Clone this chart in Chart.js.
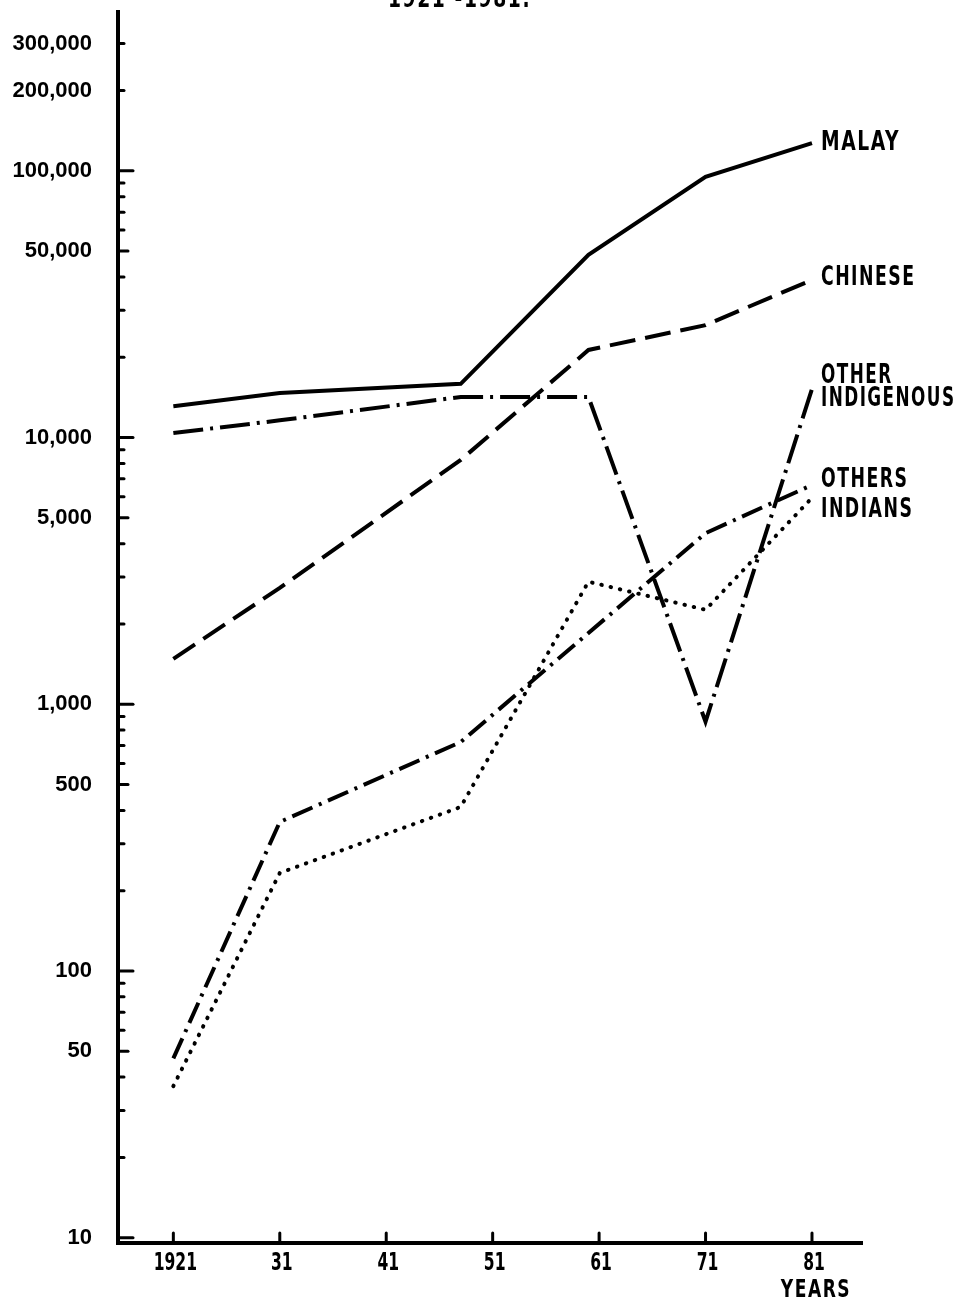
<!DOCTYPE html>
<html>
<head>
<meta charset="utf-8">
<script src="https://cdn.jsdelivr.net/npm/chart.js@4"></script>
<style>
  html, body { margin: 0; padding: 0; background: #fff; }
  #wrap { width: 962px; height: 1303px; position: relative; }
</style>
</head>
<body>
<div id="wrap"><canvas id="chart"></canvas></div>
<script>
// census years and population per group (log scale)
const years = [1921, 1931, 1948, 1960, 1971, 1981];
const malay = [13100, 14700, 15900, 48400, 94900, 127000];
const chinese = [1480, 2730, 8240, 21300, 26400, 39000];
const otherIndigenous = [10400, 11600, 14200, 14200, 860, 15200];
const others = [47, 362, 722, 1850, 4380, 6640];
const indians = [37, 233, 412, 2880, 2260, 5940];

const seriesNames = ['MALAY', 'CHINESE', ['OTHER', 'INDIGENOUS'], 'OTHERS', 'INDIANS'];
const xTickValues = [1921, 1931, 1941, 1951, 1961, 1971, 1981];
const xTickLabels = ['1921', '31', '41', '51', '61', '71', '81'];
const yTickValues = [10, 50, 100, 500, 1000, 5000, 10000, 50000, 100000, 200000, 300000];
const yTickLabels = ['10', '50', '100', '500', '1,000', '5,000', '10,000', '50,000', '100,000', '200,000', '300,000'];

const narrow = '"DejaVu Sans Condensed", "DejaVu Sans", sans-serif';
const toPoints = vals => vals.map((v, i) => ({ x: years[i], y: v }));

// squeeze text horizontally to get the tall narrow stencil look
function narrowText(ctx, text, x, y, sx, align) {
    ctx.save();
    ctx.translate(x, y);
    ctx.scale(sx, 1);
    ctx.textAlign = align;
    ctx.fillText(text, 0, 0);
    ctx.restore();
}

// inward tick marks, x labels, end labels, axis name and the clipped heading
const decor = {
    id: 'decor',
    afterDraw(chart) {
        const { ctx, chartArea, scales: { x, y } } = chart;
        ctx.save();
        ctx.strokeStyle = '#000';
        ctx.fillStyle = '#000';
        ctx.lineWidth = 3;
        ctx.lineCap = 'round';

        for (let d = 10; d <= 100000; d *= 10) {
            for (let m = 1; m <= 9; m++) {
                const v = d * m;
                if (v < y.min || v > y.max) continue;
                const py = y.getPixelForValue(v);
                const len = m === 1 ? 15 : (m === 5 ? 10 : 6);
                ctx.beginPath();
                ctx.moveTo(chartArea.left, py);
                ctx.lineTo(chartArea.left + len, py);
                ctx.stroke();
            }
        }
        ctx.font = 'bold 24px ' + narrow;
        ctx.textBaseline = 'middle';
        xTickValues.forEach((v, i) => {
            const px = x.getPixelForValue(v);
            ctx.beginPath();
            ctx.moveTo(px, chartArea.bottom);
            ctx.lineTo(px, chartArea.bottom - 10);
            ctx.stroke();
            narrowText(ctx, xTickLabels[i], px + 2, chartArea.bottom + 21, 0.72, 'center');
        });

        ctx.font = 'bold 26px ' + narrow;
        ctx.letterSpacing = '2px';
        const offsets = [0, -2, 0, -5, 12];
        chart.data.datasets.forEach((ds, i) => {
            const last = ds.data[ds.data.length - 1];
            const px = x.getPixelForValue(last.x) + 9;
            const py = y.getPixelForValue(last.y) + offsets[i];
            const name = seriesNames[i];
            if (Array.isArray(name)) {
                narrowText(ctx, name[0], px, py - 13, 0.72, 'left');
                narrowText(ctx, name[1], px, py + 10, 0.72, 'left');
            } else {
                narrowText(ctx, name, px, py, i === 0 ? 0.8 : 0.74, 'left');
            }
        });

        ctx.font = 'bold 25px ' + narrow;
        narrowText(ctx, 'YEARS', x.getPixelForValue(1981) + 4, 1290, 0.76, 'center');

        ctx.font = 'bold 26px ' + narrow;
        ctx.textBaseline = 'alphabetic';
        narrowText(ctx, '1921 -1981.', 388, 7, 0.8, 'left');
        ctx.restore();
    }
};

const lineStyle = { borderColor: '#000', borderWidth: 4, pointRadius: 0, fill: false, tension: 0 };

new Chart(document.getElementById('chart'), {
    type: 'line',
    data: {
        datasets: [
            { ...lineStyle, label: 'Malay', data: toPoints(malay) },
            { ...lineStyle, label: 'Chinese', data: toPoints(chinese), borderDash: [26, 10] },
            { ...lineStyle, label: 'Other indigenous', data: toPoints(otherIndigenous), borderDash: [30, 7, 3, 7] },
            { ...lineStyle, label: 'Others', data: toPoints(others), borderDash: [22, 7, 3, 7] },
            { ...lineStyle, label: 'Indians', data: toPoints(indians), borderDash: [0.5, 9], borderCapStyle: 'round' }
        ]
    },
    options: {
        responsive: true,
        maintainAspectRatio: false,
        animation: false,
        layout: { padding: { top: 12, right: 100, left: 0, bottom: 0 } },
        plugins: {
            legend: { display: false },
            tooltip: { enabled: false }
        },
        scales: {
            x: {
                type: 'linear',
                min: 1915.8,
                max: 1985.7,
                grid: { display: false, drawTicks: false },
                border: { display: true, color: '#000', width: 4 },
                afterBuildTicks: s => { s.ticks = xTickValues.map(v => ({ value: v })); },
                afterFit: s => { s.height = 60; s.paddingLeft = 0; s.paddingRight = 0; },
                ticks: {
                    display: false,
                    autoSkip: false,
                    callback: v => xTickLabels[xTickValues.indexOf(v)] ?? ''
                }
            },
            y: {
                type: 'logarithmic',
                min: 9.55,
                max: 394000,
                grid: { display: false, drawTicks: false },
                border: { display: true, color: '#000', width: 4 },
                afterBuildTicks: s => { s.ticks = yTickValues.map(v => ({ value: v })); },
                afterFit: s => { s.width = 118; s.paddingTop = 0; s.paddingBottom = 0; },
                ticks: {
                    autoSkip: false,
                    color: '#000',
                    padding: 26,
                    font: { family: '"Liberation Sans", Arial, sans-serif', size: 22, weight: 'bold' },
                    callback: v => yTickLabels[yTickValues.indexOf(v)] ?? ''
                }
            }
        }
    },
    plugins: [decor]
});
</script>
</body>
</html>
